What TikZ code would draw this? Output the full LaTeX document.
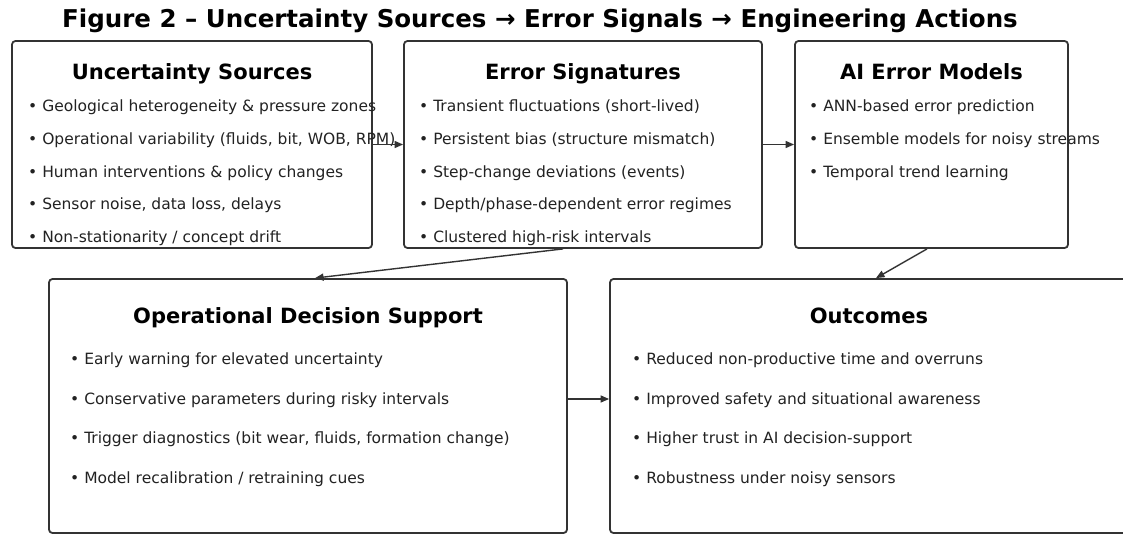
\documentclass[tikz,border=0pt]{standalone}
\usepackage{fontspec}
\setmainfont{DejaVu Sans}
\usetikzlibrary{arrows.meta}
\definecolor{edgec}{HTML}{333333}
\definecolor{txtc}{HTML}{222222}
\begin{document}
\begin{tikzpicture}[x=1pt,y=-1pt,
  box/.style={draw=edgec, line width=1.8pt, rounded corners=3.5pt, inner sep=0pt},
  btitle/.style={anchor=base, font=\fontsize{21}{25}\selectfont\bfseries, text=black, inner sep=0pt},
  item/.style={anchor=base west, font=\fontsize{15.5}{18}\selectfont, text=txtc, inner sep=0pt},
  arr/.style={draw=edgec, line width=1.4pt, -{Triangle[length=8.5pt,width=7pt]}}]
\clip (0,0) rectangle (1123,535);
\fill[white] (0,0) rectangle (1123,535);

\node[anchor=base, font=\fontsize{24.5}{28}\selectfont\bfseries, inner sep=0pt] (title) at (540,28)
  {Figure 2 – Uncertainty Sources → Error Signals → Engineering Actions};

\node[box, minimum width=360pt, minimum height=207pt] (b1) at (192,144.5) {};
\node[box, minimum width=358pt, minimum height=207pt] (b2) at (583,144.5) {};
\node[box, minimum width=273pt, minimum height=207pt] (b3) at (931.5,144.5) {};
\node[box, minimum width=518pt, minimum height=254pt] (b4) at (308,406) {};
\node[box, minimum width=518pt, minimum height=254pt] (b5) at (869,406) {};

\node[btitle] (t1) at (192,79) {Uncertainty Sources};
\node[btitle] (t2) at (583,79) {Error Signatures};
\node[btitle] (t3) at (931.5,79) {AI Error Models};
\node[btitle] (t4) at (308,323) {Operational Decision Support};
\node[btitle] (t5) at (869,323) {Outcomes};

\foreach \t [count=\i from 0] in {Geological heterogeneity \& pressure zones,
  {Operational variability (fluids, bit, WOB, RPM)},
  Human interventions \& policy changes,
  {Sensor noise, data loss, delays},
  Non-stationarity / concept drift}
  \node[item] (u\i) at (28,111.5+32.75*\i) {• \t};

\foreach \t [count=\i from 0] in {Transient fluctuations (short-lived),
  Persistent bias (structure mismatch),
  Step-change deviations (events),
  Depth/phase-dependent error regimes,
  Clustered high-risk intervals}
  \node[item] (e\i) at (419,111.5+32.75*\i) {• \t};

\foreach \t [count=\i from 0] in {ANN-based error prediction,
  Ensemble models for noisy streams,
  Temporal trend learning}
  \node[item] (m\i) at (809,111.5+32.75*\i) {• \t};

\foreach \t [count=\i from 0] in {Early warning for elevated uncertainty,
  Conservative parameters during risky intervals,
  {Trigger diagnostics (bit wear, fluids, formation change)},
  Model recalibration / retraining cues}
  \node[item] (d\i) at (70,364.5+39.7*\i) {• \t};

\foreach \t [count=\i from 0] in {Reduced non-productive time and overruns,
  Improved safety and situational awareness,
  Higher trust in AI decision-support,
  Robustness under noisy sensors}
  \node[item] (o\i) at (632,364.5+39.7*\i) {• \t};

\draw[arr] (b1) -- (b2);
\draw[arr] (b2) -- (b3);
\draw[arr] ([xshift=-20pt]b2.south) -- ([xshift=7pt]b4.north);
\draw[arr] ([xshift=-4.5pt]b3.south) -- ([xshift=7pt]b5.north);
\draw[arr] ([yshift=7pt]b4.east) -- ([yshift=7pt]b5.west);
\end{tikzpicture}
\end{document}
